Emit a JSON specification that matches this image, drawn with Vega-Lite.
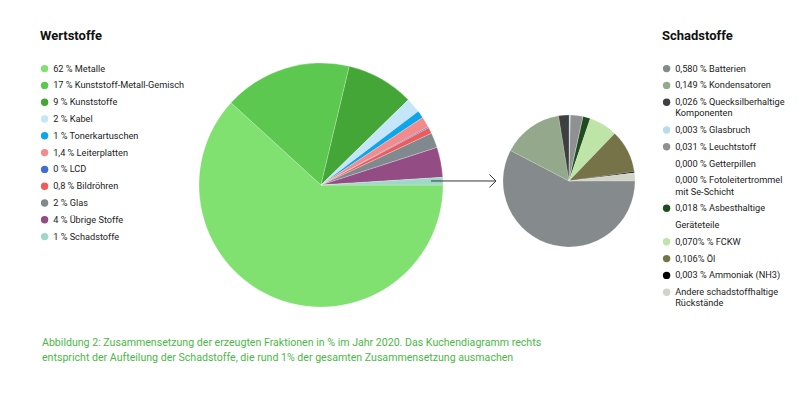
{
  "$schema": "https://vega.github.io/schema/vega-lite/v6.json",
  "background": "white",
  "padding": {"left": 40, "top": 30, "right": 0, "bottom": 0},
  "spacing": 4,
  "resolve": {"scale": {"color": "independent", "theta": "independent"}, "legend": {"color": "independent"}},
  "config": {
    "view": {"stroke": null},
    "font": "Roboto",
    "legend": {
      "symbolType": "circle",
      "symbolSize": 55,
      "symbolStrokeWidth": 0,
      "labelFont": "Roboto",
      "labelFontSize": 9.2,
      "labelColor": "#222222",
      "labelOffset": 4,
      "titleFont": "Roboto",
      "titleFontSize": 13,
      "titleFontWeight": "bold",
      "titleColor": "#111111",
      "titlePadding": 21,
      "rowPadding": 6.8,
      "padding": 0,
      "labelLimit": 300
    }
  },
  "title": {
    "text": ["Abbildung 2: Zusammensetzung der erzeugten Fraktionen in % im Jahr 2020. Das Kuchendiagramm rechts", "entspricht der Aufteilung der Schadstoffe, die rund 1% der gesamten Zusammensetzung ausmachen"],
    "orient": "bottom",
    "anchor": "start",
    "color": "#4cb748",
    "font": "Roboto",
    "fontSize": 10.6,
    "fontWeight": "normal",
    "lineHeight": 15,
    "offset": -2,
    "dx": 2
  },
  "hconcat": [
    {
      "width": 244,
      "height": 310,
      "layer": [
        {
          "data": {"values": [
            {"idx": 1, "label": "62 % Metalle", "value": 62},
            {"idx": 2, "label": "17 % Kunststoff-Metall-Gemisch", "value": 17},
            {"idx": 3, "label": "9 % Kunststoffe", "value": 9},
            {"idx": 4, "label": "2 % Kabel", "value": 2},
            {"idx": 5, "label": "1 % Tonerkartuschen", "value": 1},
            {"idx": 6, "label": "1,4 % Leiterplatten", "value": 1.4},
            {"idx": 7, "label": "0 % LCD", "value": 0.15},
            {"idx": 8, "label": "0,8 % Bildröhren", "value": 0.8},
            {"idx": 9, "label": "2 % Glas", "value": 2},
            {"idx": 10, "label": "4 % Übrige Stoffe", "value": 4},
            {"idx": 11, "label": "1 % Schadstoffe", "value": 1}
          ]},
          "mark": {"type": "arc", "outerRadius": 122, "stroke": "#ffffff", "strokeWidth": 0.4, "strokeOpacity": 0.6},
          "encoding": {
            "theta": {"field": "value", "type": "quantitative", "stack": true, "scale": {"range": [1.5708, 7.854]}},
            "order": {"field": "idx", "type": "quantitative"},
            "color": {
              "field": "label", "type": "nominal",
              "scale": {
                "domain": ["62 % Metalle", "17 % Kunststoff-Metall-Gemisch", "9 % Kunststoffe", "2 % Kabel", "1 % Tonerkartuschen", "1,4 % Leiterplatten", "0 % LCD", "0,8 % Bildröhren", "2 % Glas", "4 % Übrige Stoffe", "1 % Schadstoffe"],
                "range": ["#80e070", "#5cc84f", "#43a637", "#c5e5f8", "#0ea5e9", "#f28b8b", "#3f6fcf", "#ef5a5a", "#808a8e", "#944d84", "#9fd8c8"]
              },
              "legend": {"title": "Wertstoffe", "orient": "left", "offset": 14}
            }
          }
        },
        {
          "data": {"values": [{"from": 0.951, "to": 1.213, "level": 0.513}]},
          "mark": {"type": "rule", "color": "#333333", "strokeWidth": 1},
          "encoding": {
            "x": {"field": "from", "type": "quantitative", "scale": {"domain": [0, 1], "nice": false, "zero": false}, "axis": null},
            "x2": {"field": "to"},
            "y": {"field": "level", "type": "quantitative", "scale": {"domain": [0, 1], "nice": false, "zero": false}, "axis": null}
          }
        },
        {
          "data": {"values": [{"tip": 1.217, "level": 0.513}]},
          "mark": {"type": "point", "shape": "M-1,-1L0,0L-1,1", "filled": false, "size": 169, "color": "#333333", "strokeWidth": 1, "opacity": 1},
          "encoding": {
            "x": {"field": "tip", "type": "quantitative", "scale": {"domain": [0, 1], "nice": false, "zero": false}, "axis": null},
            "y": {"field": "level", "type": "quantitative", "scale": {"domain": [0, 1], "nice": false, "zero": false}, "axis": null}
          }
        }
      ]
    },
    {
      "width": 132,
      "height": 302,
      "data": {"values": [
        {"idx": 1, "label": "0,580 % Batterien", "value": 0.580},
        {"idx": 2, "label": "0,149 % Kondensatoren", "value": 0.149},
        {"idx": 3, "label": "0,026 % Quecksilberhaltige|Komponenten", "value": 0.026},
        {"idx": 4, "label": "0,003 % Glasbruch", "value": 0.003},
        {"idx": 5, "label": "0,031 % Leuchtstoff", "value": 0.031},
        {"idx": 6, "label": "0,000 % Getterpillen", "value": 0},
        {"idx": 7, "label": "0,000 % Fotoleitertrommel|mit Se-Schicht", "value": 0},
        {"idx": 8, "label": "0,018 % Asbesthaltige", "value": 0.018},
        {"idx": 9, "label": "0,070% % FCKW", "value": 0.070},
        {"idx": 10, "label": "0,106% Öl", "value": 0.106},
        {"idx": 11, "label": "0,003 % Ammoniak (NH3)", "value": 0.003},
        {"idx": 12, "label": "Andere schadstoffhaltige|Rückstände", "value": 0.02}
      ]},
      "mark": {"type": "arc", "outerRadius": 66, "stroke": "#ffffff", "strokeWidth": 0.3, "strokeOpacity": 0.5},
      "encoding": {
        "theta": {"field": "value", "type": "quantitative", "stack": true, "scale": {"range": [1.5708, 7.854]}},
        "order": {"field": "idx", "type": "quantitative"},
        "color": {
          "field": "label", "type": "nominal",
          "scale": {
            "domain": ["0,580 % Batterien", "0,149 % Kondensatoren", "0,026 % Quecksilberhaltige|Komponenten", "0,003 % Glasbruch", "0,031 % Leuchtstoff", "0,000 % Getterpillen", "0,000 % Fotoleitertrommel|mit Se-Schicht", "0,018 % Asbesthaltige", "Geräteteile", "0,070% % FCKW", "0,106% Öl", "0,003 % Ammoniak (NH3)", "Andere schadstoffhaltige|Rückstände"],
            "range": ["#858a8c", "#94a88c", "#3f3f3f", "#b8dcea", "#8f9091", "transparent", "transparent", "#1f4d1f", "transparent", "#bfe4a8", "#767348", "#000000", "#d2d4c8"]
          },
          "legend": {"title": "Schadstoffe", "orient": "right", "offset": 27, "labelExpr": "split(datum.label, '|')", "labelLimit": 200}
        }
      }
    }
  ]
}
